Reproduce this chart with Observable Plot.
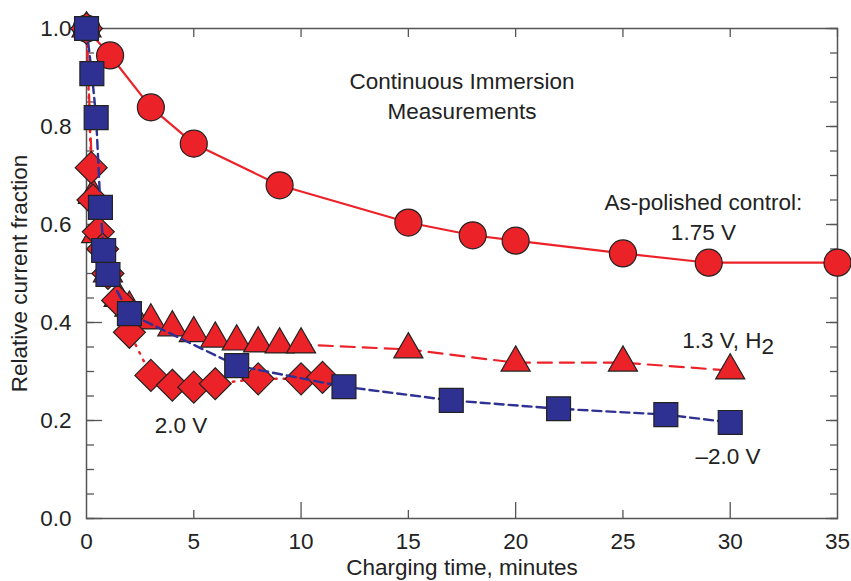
<!DOCTYPE html>
<html><head><meta charset="utf-8">
<script src="https://cdn.jsdelivr.net/npm/d3@7"></script>
<script src="https://cdn.jsdelivr.net/npm/@observablehq/plot@0.6"></script>
<style>body{margin:0;background:#fff} svg{font-family:"Liberation Sans",Arial,sans-serif}</style>
</head><body><div id="chart"></div><script>
// As-polished control: 1.75 V (circles)
const circleT = [0, 1.1, 3, 5, 9, 15, 18, 20, 25, 29, 35];
const circleV = [1.0, 0.945, 0.839, 0.765, 0.68, 0.604, 0.578, 0.567, 0.541, 0.522, 0.522];
// 1.3 V, H2 (triangles)
const triT = [0, 0.3, 0.45, 1, 1.5, 2, 3, 4, 5, 6, 7, 8, 9, 10, 15, 20, 25, 30];
const triV = [1.0, 0.66, 0.58, 0.5, 0.45, 0.43, 0.404, 0.39, 0.378, 0.367, 0.361, 0.357, 0.355, 0.355, 0.345, 0.318, 0.318, 0.302];
// 2.0 V (diamonds)
const diaT = [0, 0.22, 0.3, 0.55, 0.75, 1, 1.45, 2, 3, 4, 5, 6, 8, 10, 11];
const diaV = [1.0, 0.716, 0.65, 0.585, 0.55, 0.5, 0.445, 0.38, 0.292, 0.272, 0.268, 0.275, 0.285, 0.285, 0.288];
// -2.0 V (squares)
const sqT = [0, 0.25, 0.45, 0.65, 0.8, 1.0, 2, 7, 12, 17, 22, 27, 30];
const sqV = [1.0, 0.908, 0.818, 0.635, 0.547, 0.498, 0.418, 0.312, 0.269, 0.241, 0.224, 0.212, 0.196];

const xTicks = [0, 5, 10, 15, 20, 25, 30, 35];
const yTicks = [0, 0.2, 0.4, 0.6, 0.8, 1.0];
const yMinor = d3.range(0, 1.0001, 0.05).map(d => +d.toFixed(2));

const labelText = ["Continuous Immersion\nMeasurements", "As-polished control:\n1.75 V", "1.3 V, H2", "2.0 V", "\u20132.0 V"];
const labelT = [17.5, 28.75, 29.9, 4.4, 29.9];
const labelV = [0.865, 0.618, 0.368, 0.193, 0.130];

const zip = (t, v) => t.map((d, i) => ({t: d, v: v[i]}));
const circles = zip(circleT, circleV), tris = zip(triT, triV), dias = zip(diaT, diaV), sqs = zip(sqT, sqV);
const labels = labelText.map((s, i) => ({s, t: labelT[i], v: labelV[i]}));

const RED = "#ec2229", BLUE = "#2e3192", INK = "#222", AX = "#555";
const FS = 22.5;

const chart = Plot.plot({
  width: 851, height: 581,
  marginLeft: 86, marginRight: 14, marginTop: 28, marginBottom: 63,
  style: {fontFamily: '"Liberation Sans", Arial, sans-serif', background: "#fff", color: INK},
  x: {domain: [0, 35]},
  y: {domain: [0, 1]},
  marks: [
    Plot.frame({stroke: AX, strokeWidth: 1.5}),
    // inward ticks
    Plot.axisX({anchor: "bottom", ticks: [5, 15, 25], tickSize: -8, text: null, label: null, stroke: AX, strokeWidth: 1.3}),
    Plot.axisX({anchor: "bottom", ticks: [10, 20, 30], tickSize: -16, text: null, label: null, stroke: AX, strokeWidth: 1.3}),
    Plot.axisX({anchor: "top", ticks: xTicks, tickSize: -8, text: null, label: null, stroke: AX, strokeWidth: 1.3}),
    Plot.axisY({anchor: "left", ticks: yMinor, tickSize: -8, text: null, label: null, stroke: AX, strokeWidth: 1.3}),
    Plot.axisY({anchor: "left", ticks: yTicks, tickSize: -16, text: null, label: null, stroke: AX, strokeWidth: 1.3}),
    Plot.axisY({anchor: "right", ticks: yMinor, tickSize: -8, text: null, label: null, stroke: AX, strokeWidth: 1.3}),
    Plot.axisY({anchor: "right", ticks: yTicks, tickSize: -12, text: null, label: null, stroke: AX, strokeWidth: 1.3}),
    // tick labels + axis titles
    Plot.axisX({anchor: "bottom", ticks: xTicks, tickSize: 0, tickPadding: 15, fontSize: FS,
      label: "Charging time, minutes", labelAnchor: "center", labelArrow: "none", labelOffset: 56}),
    Plot.axisY({anchor: "left", ticks: yTicks, tickSize: 0, tickPadding: 15, fontSize: FS,
      tickFormat: d => d.toFixed(1),
      label: "Relative current fraction", labelAnchor: "center", labelArrow: "none", labelOffset: 75}),
    // series
    Plot.line(circles, {x: "t", y: "v", stroke: RED, strokeWidth: 2.2}),
    Plot.dot(circles, {x: "t", y: "v", symbol: "circle", r: 13.5, fill: RED, stroke: INK, strokeWidth: 1.2}),
    Plot.line(tris, {x: "t", y: "v", stroke: RED, strokeWidth: 2.2, strokeDasharray: "14,8"}),
    Plot.dot(tris, {x: "t", y: "v", symbol: "triangle", r: 10.8, fill: RED, stroke: INK, strokeWidth: 1.2}),
    Plot.line(dias, {x: "t", y: "v", stroke: RED, strokeWidth: 2.5, strokeDasharray: "1.5,7", strokeLinecap: "round"}),
    Plot.dot(dias, {x: "t", y: "v", symbol: "diamond2", r: 14.4, fill: RED, stroke: INK, strokeWidth: 1.2}),
    Plot.line(sqs, {x: "t", y: "v", stroke: BLUE, strokeWidth: 2.4, strokeDasharray: "9,5"}),
    Plot.dot(sqs, {x: "t", y: "v", symbol: "square", r: 13.5, fill: BLUE, stroke: INK, strokeWidth: 1.2}),
    // annotations
    Plot.text(labels, {x: "t", y: "v", text: "s", fontSize: FS, fill: INK, lineHeight: 1.3, textAnchor: "middle"})
  ]
});
document.getElementById("chart").appendChild(chart);
d3.select(chart).selectAll("text").filter(function() { return this.textContent === "1.3 V, H2"; })
  .each(function() {
    const t = d3.select(this);
    t.text("1.3 V, H");
    t.append("tspan").attr("dy", "0.3em").text("2");
  });
</script></body></html>
